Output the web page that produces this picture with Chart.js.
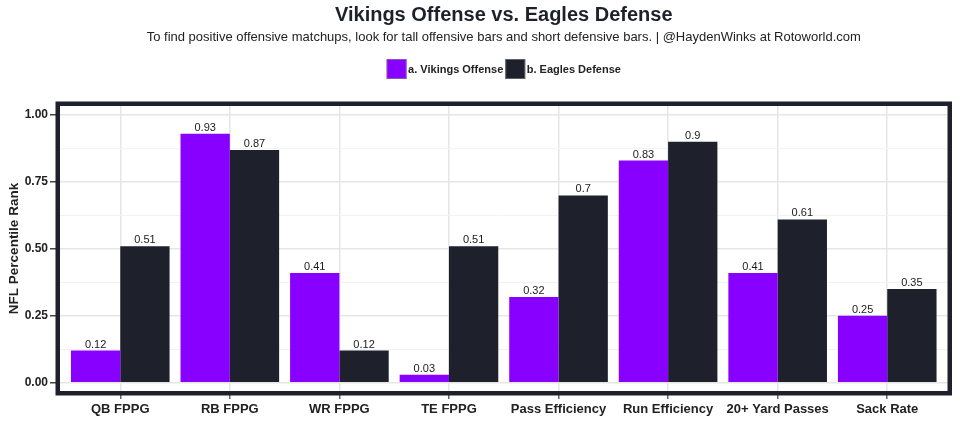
<!DOCTYPE html>
<html>
<head>
<meta charset="utf-8">
<script src="https://cdn.jsdelivr.net/npm/chart.js@4"></script>
<style>
  html, body { margin: 0; padding: 0; background: #ffffff; }
  #wrap { width: 960px; height: 439px; position: relative; }
</style>
</head>
<body>
<div id="wrap"><canvas id="chart" width="960" height="439"></canvas></div>
<script>
const categories = ['QB FPPG', 'RB FPPG', 'WR FPPG', 'TE FPPG', 'Pass Efficiency', 'Run Efficiency', '20+ Yard Passes', 'Sack Rate'];
const vikingsOffense = [0.12, 0.93, 0.41, 0.03, 0.32, 0.83, 0.41, 0.25];
const eaglesDefense = [0.51, 0.87, 0.12, 0.51, 0.7, 0.9, 0.61, 0.35];
const yTicks = [0, 0.125, 0.25, 0.375, 0.5, 0.625, 0.75, 0.875, 1];
const seriesNames = ['a. Vikings Offense', 'b. Eagles Defense'];

const FONT = "'Liberation Sans', Arial, Helvetica, sans-serif";
const PURPLE = '#8800ff';
const DARK = '#1e212b';

function isMajor(v) {
    return Math.abs(v * 4 - Math.round(v * 4)) < 1e-6;
}

// title, subtitle and legend drawn above the panel
const headerPlugin = {
    id: 'header',
    afterDraw(chart) {
        const ctx = chart.ctx;
        const cx = (chart.chartArea.left + chart.chartArea.right) / 2;
        ctx.save();
        ctx.textAlign = 'center';
        ctx.textBaseline = 'alphabetic';
        ctx.fillStyle = DARK;
        ctx.font = 'bold 20px ' + FONT;
        ctx.fillText('Vikings Offense vs. Eagles Defense', cx, 21);
        ctx.fillStyle = '#222222';
        ctx.font = '13px ' + FONT;
        ctx.fillText('To find positive offensive matchups, look for tall offensive bars and short defensive bars. | @HaydenWinks at Rotoworld.com', cx, 41);

        // legend
        ctx.font = 'bold 11px ' + FONT;
        const box = 20, gap = 1.5;
        const widths = seriesNames.map(n => box + gap + ctx.measureText(n).width);
        const total = widths.reduce((a, b) => a + b, 0) + 2;
        let x = cx - total / 2;
        const top = 59;
        chart.data.datasets.forEach((ds, i) => {
            ctx.fillStyle = ds.backgroundColor;
            ctx.fillRect(x, top, box, box);
            ctx.strokeStyle = 'rgba(140,140,140,0.6)';
            ctx.lineWidth = 1;
            ctx.strokeRect(x + 0.5, top + 0.5, box - 1, box - 1);
            ctx.fillStyle = '#222222';
            ctx.textAlign = 'left';
            ctx.textBaseline = 'middle';
            ctx.fillText(seriesNames[i], x + box + gap, top + box / 2 + 1);
            x += widths[i] + 2;
        });
        ctx.restore();
    }
};

// value labels above bars + thick panel border
const labelPlugin = {
    id: 'valueLabels',
    afterDatasetsDraw(chart) {
        const ctx = chart.ctx;
        ctx.save();
        ctx.font = '11px ' + FONT;
        ctx.fillStyle = '#1a1a1a';
        ctx.textAlign = 'center';
        ctx.textBaseline = 'bottom';
        chart.data.datasets.forEach((ds, i) => {
            const meta = chart.getDatasetMeta(i);
            meta.data.forEach((bar, j) => {
                ctx.fillText(String(ds.data[j].y), bar.x, bar.y - 0.5);
            });
        });
        ctx.restore();
    },
    afterDraw(chart) {
        const a = chart.chartArea;
        const ctx = chart.ctx;
        ctx.save();
        ctx.strokeStyle = DARK;
        ctx.lineWidth = 4.5;
        ctx.strokeRect(a.left - 2.25, a.top - 2.25, a.right - a.left + 4.5, a.bottom - a.top + 4.5);
        ctx.restore();
    }
};

new Chart(document.getElementById('chart'), {
    type: 'bar',
    data: {
        datasets: [
            {
                label: seriesNames[0],
                data: vikingsOffense.map((v, i) => ({ x: i + 1, y: v })),
                backgroundColor: PURPLE,
                borderWidth: 0
            },
            {
                label: seriesNames[1],
                data: eaglesDefense.map((v, i) => ({ x: i + 1, y: v })),
                backgroundColor: DARK,
                borderWidth: 0
            }
        ]
    },
    options: {
        responsive: false,
        animation: false,
        categoryPercentage: 0.9,
        barPercentage: 1.0,
        layout: {
            padding: { top: 106, right: 12.5, left: 0, bottom: 0 }
        },
        plugins: {
            legend: { display: false },
            title: { display: false },
            tooltip: { enabled: false }
        },
        scales: {
            x: {
                type: 'linear',
                offset: false,
                min: 0.45,
                max: 8.55,
                afterBuildTicks(scale) {
                    scale.ticks = categories.map((c, i) => ({ value: i + 1 }));
                },
                afterFit(scale) {
                    scale.height = 48;
                },
                ticks: {
                    autoSkip: false,
                    maxRotation: 0,
                    padding: 3,
                    color: '#222222',
                    font: { family: FONT, size: 13, weight: 'bold' },
                    callback: (v) => categories[Math.round(v) - 1]
                },
                grid: {
                    offset: false,
                    color: '#e6e6e6',
                    lineWidth: 1.5,
                    tickColor: '#666666',
                    tickLength: 8
                },
                border: { display: false }
            },
            y: {
                min: -0.031,
                max: 1.034,
                afterBuildTicks(scale) {
                    scale.ticks = yTicks.map(v => ({ value: v }));
                },
                afterFit(scale) {
                    scale.width = 60;
                },
                ticks: {
                    padding: 2,
                    color: '#222222',
                    font: { family: FONT, size: 12, weight: 'bold' },
                    callback: (v) => isMajor(v) ? v.toFixed(2) : ''
                },
                grid: {
                    color: (c) => c.tick && isMajor(c.tick.value) ? '#e6e6e6' : '#f2f2f2',
                    lineWidth: (c) => c.tick && isMajor(c.tick.value) ? 1.5 : 1,
                    tickColor: (c) => c.tick && isMajor(c.tick.value) ? '#444444' : 'rgba(0,0,0,0)',
                    tickLength: 10
                },
                border: { display: false },
                title: {
                    display: true,
                    text: 'NFL Percentile Rank',
                    color: '#222222',
                    font: { family: FONT, size: 13.5, weight: 'bold' },
                    padding: { top: 6, bottom: 0 }
                }
            }
        }
    },
    plugins: [labelPlugin, headerPlugin]
});
</script>
</body>
</html>
